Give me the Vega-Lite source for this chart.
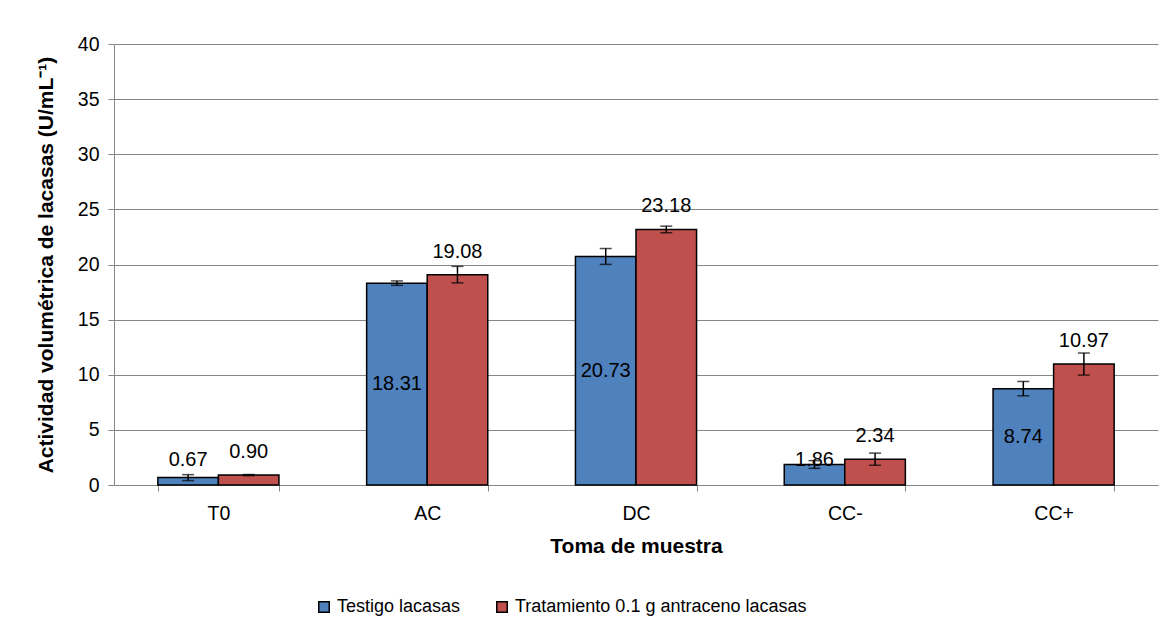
{
  "$schema": "https://vega.github.io/schema/vega-lite/v6.json",
  "width": 1044,
  "height": 441,
  "autosize": {"type": "none"},
  "padding": {"left": 114, "top": 44, "right": 14, "bottom": 150},
  "background": "white",
  "config": {
    "font": "Liberation Sans",
    "view": {"stroke": null},
    "axis": {
      "labelFont": "Liberation Sans",
      "titleFont": "Liberation Sans",
      "labelFontSize": 19.5,
      "titleFontSize": 21,
      "titleFontWeight": "bold",
      "labelColor": "#000000",
      "titleColor": "#000000",
      "domainColor": "#868686",
      "tickColor": "#868686",
      "gridColor": "#868686",
      "domainWidth": 1,
      "tickWidth": 1,
      "gridWidth": 1,
      "tickSize": 6
    }
  },
  "data": {
    "values": [
      {"muestra": "T0", "serie": "Testigo lacasas", "value": 0.67, "err": 0.27},
      {"muestra": "T0", "serie": "Tratamiento 0.1 g antraceno lacasas", "value": 0.90, "err": 0.05},
      {"muestra": "AC", "serie": "Testigo lacasas", "value": 18.31, "err": 0.2},
      {"muestra": "AC", "serie": "Tratamiento 0.1 g antraceno lacasas", "value": 19.08, "err": 0.75},
      {"muestra": "DC", "serie": "Testigo lacasas", "value": 20.73, "err": 0.72},
      {"muestra": "DC", "serie": "Tratamiento 0.1 g antraceno lacasas", "value": 23.18, "err": 0.3},
      {"muestra": "CC-", "serie": "Testigo lacasas", "value": 1.86, "err": 0.35},
      {"muestra": "CC-", "serie": "Tratamiento 0.1 g antraceno lacasas", "value": 2.34, "err": 0.55},
      {"muestra": "CC+", "serie": "Testigo lacasas", "value": 8.74, "err": 0.65},
      {"muestra": "CC+", "serie": "Tratamiento 0.1 g antraceno lacasas", "value": 10.97, "err": 1.0}
    ]
  },
  "transform": [
    {"calculate": "datum.value - datum.err", "as": "lo"},
    {"calculate": "datum.value + datum.err", "as": "hi"},
    {"calculate": "datum.value > 5 ? datum.value / 2 : 2.25", "as": "labelY"}
  ],
  "encoding": {
    "x": {
      "field": "muestra",
      "type": "nominal",
      "sort": ["T0", "AC", "DC", "CC-", "CC+"],
      "scale": {"paddingInner": 0.42, "paddingOuter": 0.21},
      "title": "Toma de muestra",
      "axis": {
        "labelAngle": 0,
        "tickBand": "extent",
        "labelPadding": 13,
        "titlePadding": 13,
        "grid": false
      }
    },
    "xOffset": {
      "field": "serie",
      "type": "nominal",
      "sort": ["Testigo lacasas", "Tratamiento 0.1 g antraceno lacasas"],
      "scale": {"paddingInner": 0, "paddingOuter": 0}
    }
  },
  "layer": [
    {
      "mark": {"type": "bar", "stroke": "#000000", "strokeWidth": 1.5},
      "encoding": {
        "y": {
          "field": "value",
          "type": "quantitative",
          "scale": {"domain": [0, 40]},
          "title": "Actividad volumétrica de lacasas (U/mL⁻¹)",
          "axis": {
            "values": [0, 5, 10, 15, 20, 25, 30, 35, 40],
            "grid": true,
            "labelPadding": 9,
            "titlePadding": 21
          }
        },
        "color": {
          "field": "serie",
          "type": "nominal",
          "sort": ["Testigo lacasas", "Tratamiento 0.1 g antraceno lacasas"],
          "scale": {"range": ["#4F81BD", "#C0504D"]},
          "legend": {
            "title": null,
            "orient": "none",
            "direction": "horizontal",
            "legendX": 201,
            "legendY": 554,
            "padding": 0,
            "symbolType": "square",
            "symbolSize": 110,
            "symbolStrokeColor": "#000000",
            "symbolStrokeWidth": 1.5,
            "labelFontSize": 18,
            "labelFont": "Liberation Sans",
            "labelColor": "#000000",
            "labelLimit": 600,
            "columnPadding": 32,
            "labelOffset": 4
          }
        }
      }
    },
    {
      "mark": {"type": "rule", "color": "#000000", "strokeWidth": 1.5},
      "encoding": {
        "y": {"field": "lo", "type": "quantitative"},
        "y2": {"field": "hi"}
      }
    },
    {
      "mark": {"type": "tick", "orient": "horizontal", "color": "#000000", "size": 12, "thickness": 1.5},
      "encoding": {"y": {"field": "hi", "type": "quantitative"}}
    },
    {
      "mark": {"type": "tick", "orient": "horizontal", "color": "#000000", "size": 12, "thickness": 1.5},
      "encoding": {"y": {"field": "lo", "type": "quantitative"}}
    },
    {
      "transform": [{"filter": "datum.serie == 'Tratamiento 0.1 g antraceno lacasas'"}],
      "mark": {"type": "text", "fontSize": 20, "font": "Liberation Sans", "color": "#000000", "baseline": "middle", "dy": -23},
      "encoding": {
        "y": {"field": "value", "type": "quantitative"},
        "text": {"field": "value", "type": "quantitative", "format": ".2f"}
      }
    },
    {
      "transform": [{"filter": "datum.serie == 'Testigo lacasas'"}],
      "mark": {"type": "text", "fontSize": 20, "font": "Liberation Sans", "color": "#000000", "baseline": "middle"},
      "encoding": {
        "y": {"field": "labelY", "type": "quantitative"},
        "text": {"field": "value", "type": "quantitative", "format": ".2f"}
      }
    }
  ]
}
